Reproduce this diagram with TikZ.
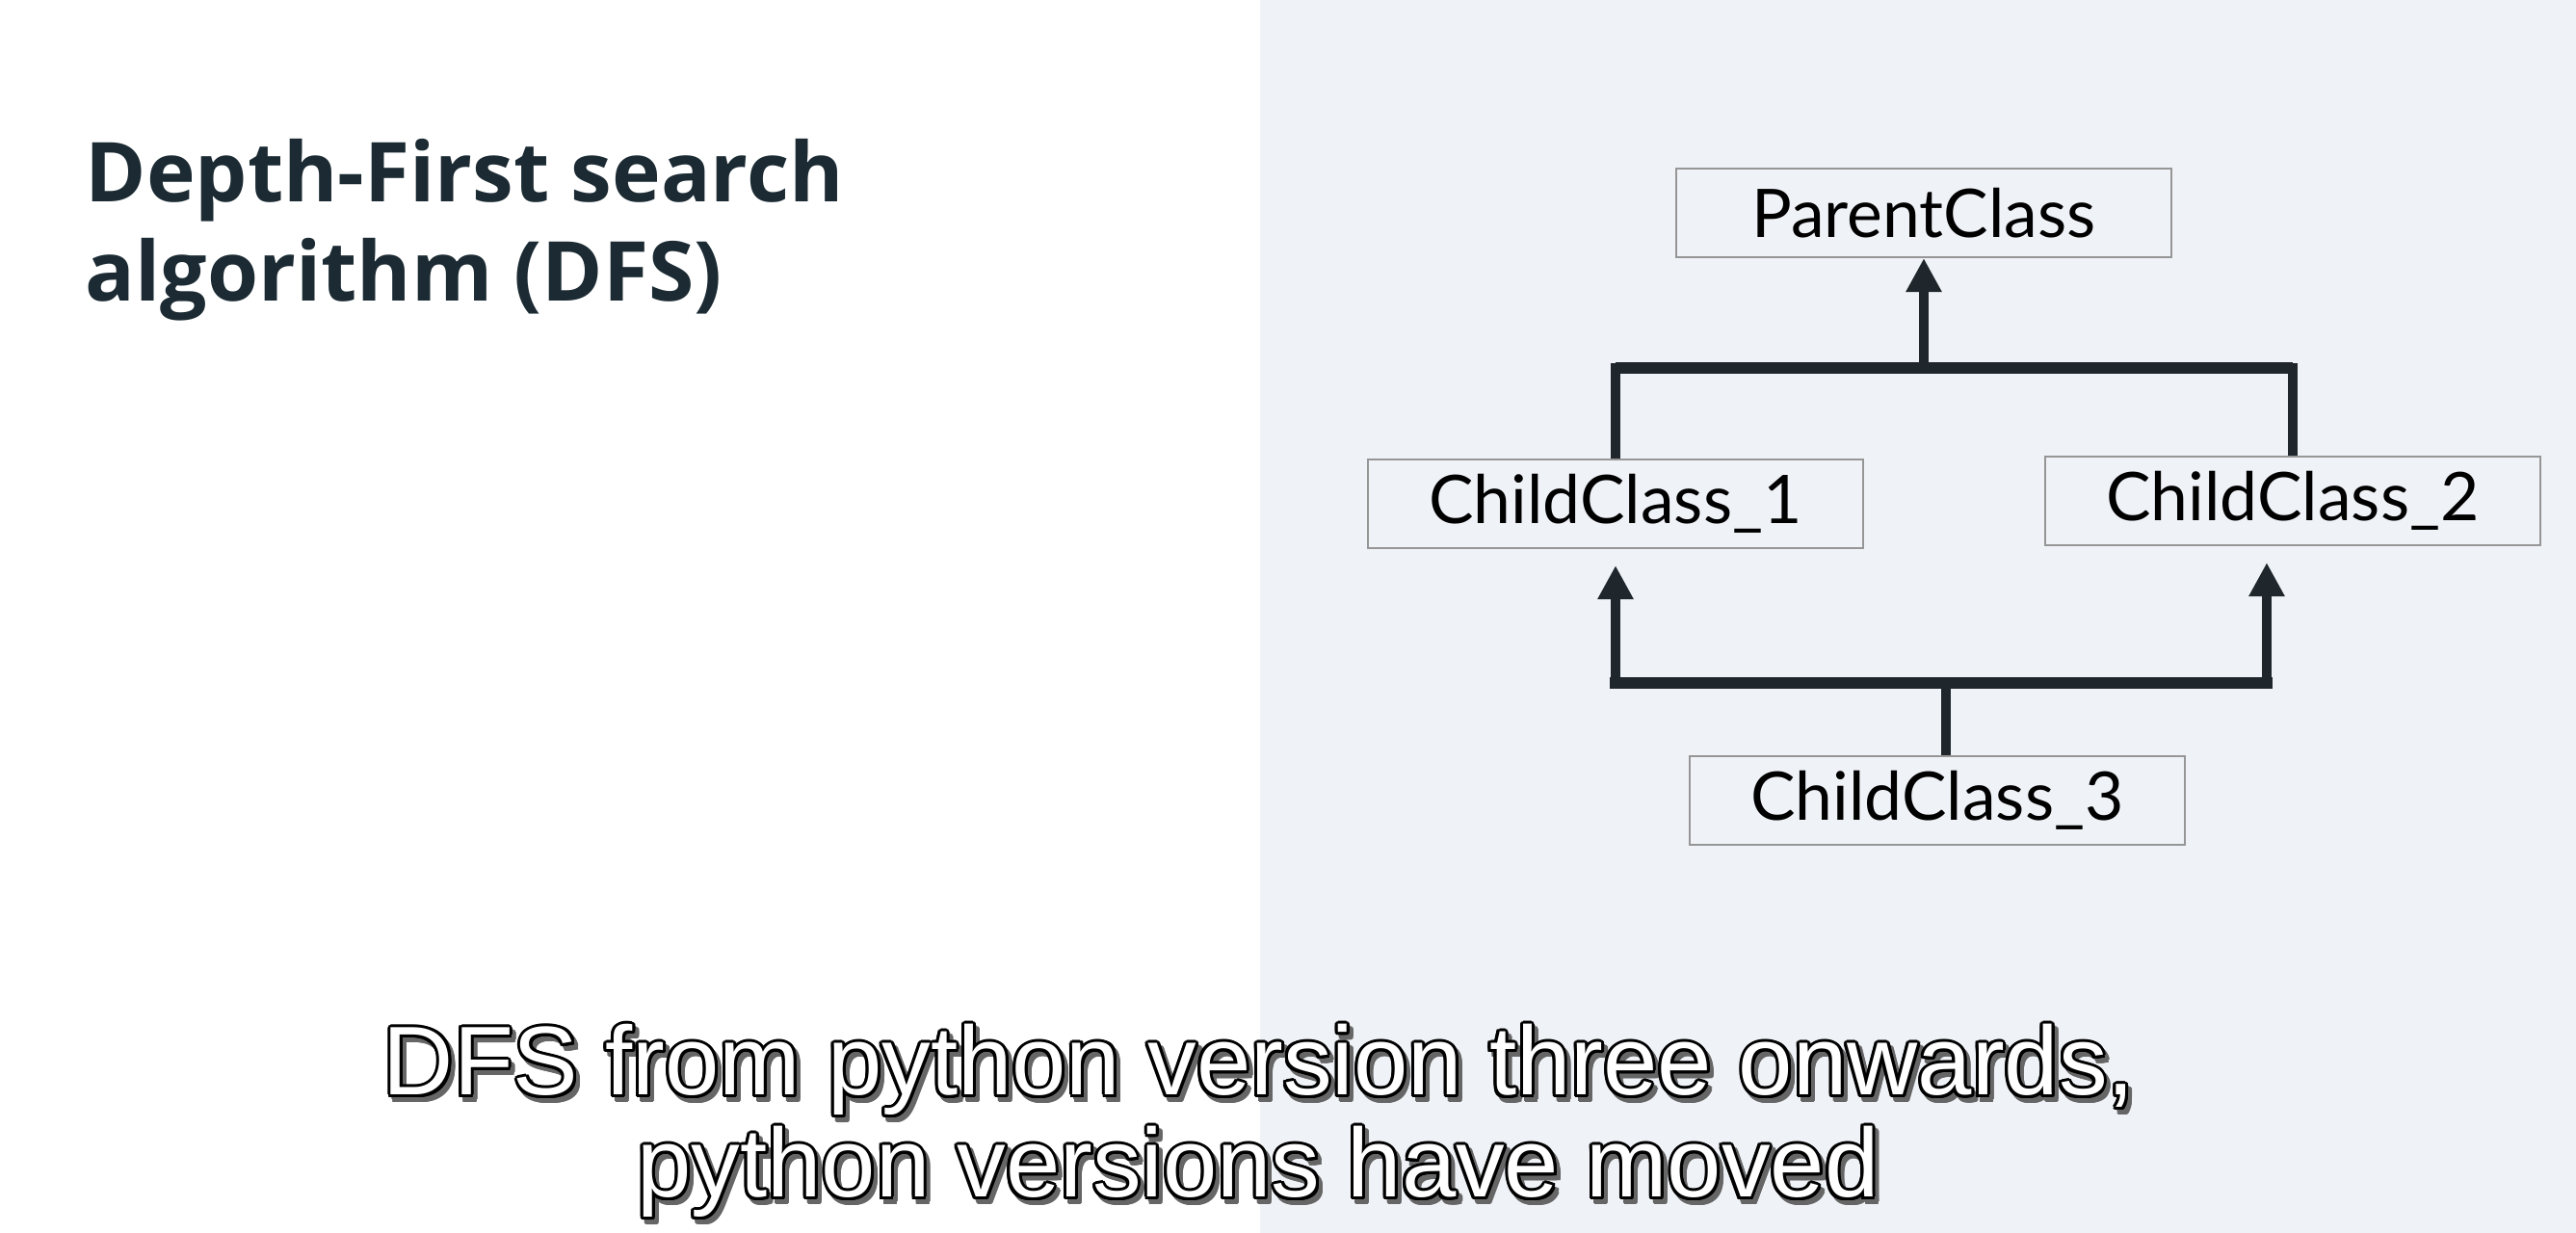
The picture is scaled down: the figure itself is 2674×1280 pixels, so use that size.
\documentclass[tikz,border=0pt]{standalone}
\usepackage{fontspec}
\setmainfont{Lato}
\newfontfamily\subfont{Liberation Sans}
\newfontfamily\headfont{Open Sans}
\usetikzlibrary{arrows.meta}
\definecolor{panel}{RGB}{239,242,247}
\definecolor{ink}{HTML}{1C2B33}
\definecolor{boxline}{RGB}{150,150,150}
\definecolor{conn}{HTML}{1F272D}
\newcommand\myoutlined[4]{%
  \foreach \a [count=\i] in {0,22.5,...,337.5}{%
    \node[subt, text=black!60] (#1s\i) at ([shift={(4,5)},shift={(\a:3)}]#2,#3) {#4};
  }%
  \foreach \a [count=\i] in {0,22.5,...,337.5}{%
    \node[subt, text=black] (#1o\i) at ([shift={(\a:3)}]#2,#3) {#4};
  }%
  \node[subt, text=white] (#1) at (#2,#3) {#4};
}
\begin{document}
\begin{tikzpicture}[x=0.01cm,y=-0.01cm,
  classbox/.style={draw=boxline, line width=0.6pt, fill=panel, minimum width=5.13cm,
    minimum height=0.92cm, inner sep=0pt, font=\fontsize{19.8}{22}\selectfont, text=black},
  link/.style={draw=conn, line width=2.6pt},
  bar/.style={draw=conn, line width=3.2pt, line cap=rect},
  tip/.style={-{Triangle[length=10pt,width=10pt]}},
  subt/.style={inner sep=0pt, anchor=base, font=\subfont\fontsize{28.8}{30}\selectfont},
  titletext/.style={anchor=base west, inner sep=0pt, text=ink, font=\headfont\bfseries\fontsize{24.4}{27}\selectfont}]

\useasboundingbox (0,0) rectangle (2674,1280);
\fill[white] (0,0) rectangle (1308,1280);
\fill[panel] (1308,0) rectangle (2674,1280);

% title
\node[titletext] (t1) at (88,210) {Depth-First search};
\node[titletext] (t2) at (88,313) {algorithm (DFS)};

% class boxes
\node[classbox] (pc) at (1997,221) {ParentClass};
\node[classbox] (c1) at (1677,523) {ChildClass\_1};
\node[classbox] (c2) at (2380,520) {ChildClass\_2};
\node[classbox] (c3) at (2011,831) {ChildClass\_3};

\coordinate (upbar) at (0,382);
\coordinate (lowbar) at (0,709);
\coordinate (c2r) at ([xshift=-0.27cm]c2.south);
\coordinate (c3s) at ([xshift=0.09cm]c3.north);

% upper connector
\draw[link] (c1.north) -- (c1.north |- upbar) -- (c2.north |- upbar) -- (c2.north);
\draw[bar, line cap=butt] (c1.north |- upbar) -- (c2.north |- upbar);
\draw[link, tip] (pc.south |- upbar) -- (pc.south);

% lower connector
\draw[link, tip] (c1.south |- lowbar) -- ([yshift=-0.17cm]c1.south);
\draw[link, tip] (c2r |- lowbar) -- ([yshift=-0.17cm]c2r);
\draw[bar] (c1.south |- lowbar) -- (c2r |- lowbar);
\draw[link] (c3s) -- (c3s |- lowbar);

% subtitles
\myoutlined{sub1}{1307}{1137}{DFS from python version three onwards,}
\myoutlined{sub2}{1306}{1243}{python versions have moved}
\end{tikzpicture}
\end{document}
